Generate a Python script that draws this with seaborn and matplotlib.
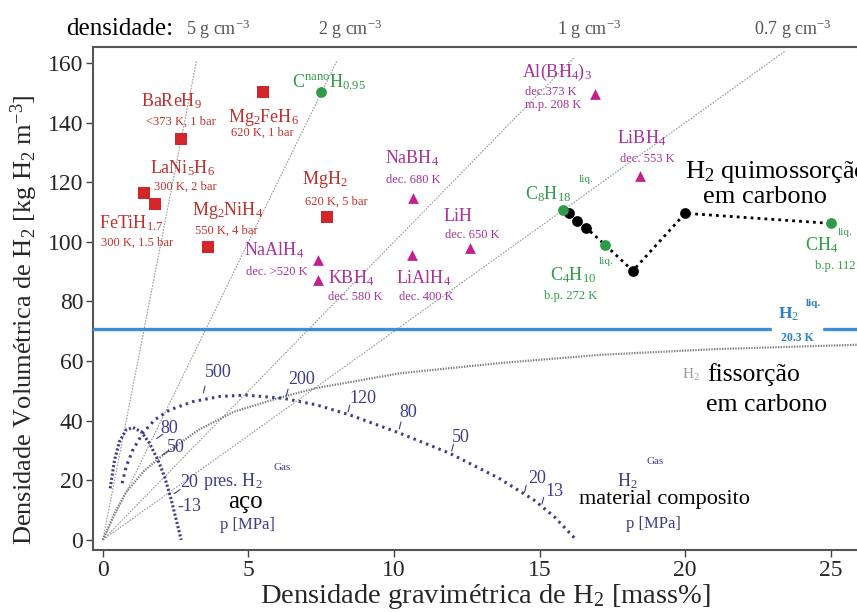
import matplotlib
matplotlib.use('Agg')
import matplotlib.pyplot as plt
import seaborn as sns
import pandas as pd

# ---------------- data ----------------
# metal hydrides (red squares)
hyd_names = ["BaReH9", "Mg2FeH6", "LaNi5H6", "FeTiH1.7", "Mg2NiH4", "MgH2"]
hyd_x = [2.7, 5.5, 1.4, 1.8, 3.6, 7.7]
hyd_y = [134.5, 150.4, 116.5, 112.6, 98.4, 108.5]

# complex hydrides (magenta triangles)
cplx_names = ["Al(BH4)3", "LiBH4", "NaBH4", "NaAlH4", "KBH4", "LiAlH4", "LiH"]
cplx_x = [16.9, 18.45, 10.65, 7.4, 7.4, 10.6, 12.6]
cplx_y = [149.5, 122.0, 114.8, 93.8, 87.2, 95.7, 97.8]

# hydrocarbons / carbon (green circles)
hc_names = ["CnanoH0.95", "C8H18", "C4H10", "CH4"]
hc_x = [7.48, 15.8, 17.25, 25.0]
hc_y = [150.4, 110.6, 99.0, 106.2]

# chemisorption on carbon (black dotted path)
chem_x = [15.8, 16.0, 16.3, 16.6, 17.25, 18.2, 20.0, 25.0]
chem_y = [110.6, 109.7, 107.0, 104.7, 99.0, 90.3, 109.6, 106.2]
chem_dot_x = [16.0, 16.3, 16.6, 18.2, 20.0]
chem_dot_y = [109.7, 107.0, 104.7, 90.3, 109.6]

# liquid hydrogen
h2_liq = 70.8

# density reference lines (g cm^-3) and their upper ends (kg m^-3)
densities = [5, 2, 1, 0.7]
density_labels = ["5 g cm$^{-3}$", "2 g cm$^{-3}$", "1 g cm$^{-3}$", "0.7 g cm$^{-3}$"]
density_top = [161, 161, 162, 164]

# pressurised H2 in steel tank
steel_x = [0.25, 0.40, 0.57, 0.80, 1.03, 1.32, 1.60, 1.89, 2.12, 2.35, 2.52, 2.69]
steel_y = [17.3, 26.8, 33.0, 36.9, 37.7, 36.3, 32.4, 26.8, 21.2, 13.4, 6.7, 0.0]

# pressurised H2 in composite tank
comp_x = [0.66, 0.80, 1.03, 1.37, 1.78, 2.29, 3.09, 4.0, 4.9, 6.2, 7.34, 8.49,
          10.2, 11.9, 13.6, 14.8, 15.5, 16.2]
comp_y = [19.0, 24.6, 30.2, 35.8, 40.3, 43.6, 46.4, 48.1, 48.6, 47.5, 45.3, 41.9,
          35.8, 29.1, 20.7, 13.4, 7.8, 0.6]

# physisorption on carbon
phys_x = [0.0, 0.4, 0.8, 1.4, 2.0, 3.3, 4.5, 6.0, 7.3, 10.2, 13.6, 17.1, 21.0, 26.0]
phys_y = [0.0, 9.0, 16.0, 23.0, 28.0, 37.0, 43.0, 47.5, 50.9, 55.9, 59.3, 62.1, 64.0, 65.5]

# pressure labels (MPa)
steel_p = ["80", "50", "20", "-13"]
comp_p = ["500", "200", "120", "80", "50", "20", "13"]

x_ticks = [0, 5, 10, 15, 20, 25]
y_ticks = [0, 20, 40, 60, 80, 100, 120, 140, 160]

# ---------------- style ----------------
sns.set_theme(style="white")
plt.rcParams['font.family'] = ['Liberation Serif', 'DejaVu Serif']
plt.rcParams['mathtext.fontset'] = 'custom'
plt.rcParams['mathtext.rm'] = 'Liberation Serif'
plt.rcParams['mathtext.it'] = 'Liberation Serif:italic'
plt.rcParams['mathtext.bf'] = 'Liberation Serif:bold'

RED = "#d2262b"
RED_T = "#c0302c"
MAG = "#c3208f"
MAG_T = "#a8329c"
GRN = "#2e9b48"
NAVY = "#3d3d88"
BLUE = "#3a8fd6"
BLUE_T = "#2a7fc0"
GREY = "#9a9a9a"

fig = plt.figure(figsize=(8.57, 6.12), dpi=100)
ax = fig.add_axes([0.1085, 0.1013, 0.8915, 0.8219])
XMIN, XMAX = -0.34, 25.9
ax.set_xlim(XMIN, XMAX)
ax.set_ylim(-3.4, 165.4)

# density lines
for d, top in zip(densities, density_top):
    sns.lineplot(x=[0, top / (10 * d)], y=[0, top], ax=ax, color=GREY, lw=0.8,
                 linestyle=(0, (1.5, 1.2)), sort=False, estimator=None)

# physisorption curve
sns.lineplot(x=phys_x, y=phys_y, ax=ax, color="#7a7a7a", lw=1.6,
             linestyle=(0, (0.6, 0.6)), sort=False, estimator=None)
# pressure curves
sns.lineplot(x=steel_x, y=steel_y, ax=ax, color=NAVY, lw=2.2,
             linestyle=(0, (0.7, 0.7)), sort=False, estimator=None)
sns.lineplot(x=comp_x, y=comp_y, ax=ax, color=NAVY, lw=2.2,
             linestyle=(0, (0.8, 1.4)), sort=False, estimator=None)

# liquid hydrogen line, with a gap for its label
gap_lo, gap_hi = 22.9, 24.75
ax.axhline(h2_liq, xmax=(gap_lo - XMIN) / (XMAX - XMIN), color=BLUE, lw=2.4, zorder=3)
ax.axhline(h2_liq, xmin=(gap_hi - XMIN) / (XMAX - XMIN), color=BLUE, lw=2.4, zorder=3)

# chemisorption path
sns.lineplot(x=chem_x, y=chem_y, ax=ax, color="black", lw=2.0,
             linestyle=(0, (1, 1.5)), sort=False, estimator=None)
sns.scatterplot(x=chem_dot_x, y=chem_dot_y, ax=ax, color="black", s=60,
                linewidth=0, zorder=5)

# markers
sns.scatterplot(x=hyd_x, y=hyd_y, ax=ax, marker="s", color=RED, s=70,
                linewidth=0, zorder=5)
sns.scatterplot(x=cplx_x, y=cplx_y, ax=ax, marker="^", color=MAG, s=60,
                linewidth=0, zorder=5)
sns.scatterplot(x=hc_x, y=hc_y, ax=ax, marker="o", color=GRN, s=60,
                linewidth=0, zorder=6)

# ---------------- texts ----------------
big, small = 13, 9
def t(x, y, s, c, fs, ha="center", **kw):
    ax.text(x, y, s, color=c, fontsize=fs, ha=ha, va="center", **kw)

# red
t(2.37, 147.3, "BaReH$_9$", RED_T, big)
t(2.68, 140.3, "<373 K, 1 bar", RED_T, small)
t(5.53, 141.6, "Mg$_2$FeH$_6$", RED_T, big)
t(5.46, 136.6, "620 K, 1 bar", RED_T, small)
t(2.75, 124.8, "LaNi$_5$H$_6$", RED_T, big)
t(2.82, 118.5, "300 K, 2 bar", RED_T, small)
t(0.96, 106.4, "FeTiH$_{1.7}$", RED_T, big)
t(1.17, 99.7, "300 K, 1.5 bar", RED_T, small)
t(4.30, 110.7, "Mg$_2$NiH$_4$", RED_T, big)
t(4.23, 103.7, "550 K, 4 bar", RED_T, small)
t(7.63, 120.8, "MgH$_2$", RED_T, big)
t(8.0, 113.4, "620 K, 5 bar", RED_T, small)

# magenta
t(10.62, 128.2, "NaBH$_4$", MAG_T, big)
t(10.65, 120.8, "dec. 680 K", MAG_T, small)
t(15.6, 156.7, "Al(BH$_4$)$_3$", MAG_T, big)
t(14.5, 150.3, "dec.373 K", MAG_T, small, ha="left")
t(14.5, 146.0, "m.p. 208 K", MAG_T, small, ha="left")
t(18.52, 134.9, "LiBH$_4$", MAG_T, big)
t(18.7, 127.9, "dec. 553 K", MAG_T, small)
t(5.88, 97.3, "NaAlH$_4$", MAG_T, big)
t(5.97, 89.9, "dec. >520 K", MAG_T, small)
t(8.52, 87.9, "KBH$_4$", MAG_T, big)
t(8.68, 81.5, "dec. 580 K", MAG_T, small)
t(11.03, 87.9, "LiAlH$_4$", MAG_T, big)
t(11.1, 81.5, "dec. 400 K", MAG_T, small)
t(12.2, 108.4, "LiH", MAG_T, big)
t(12.7, 102.3, "dec. 650 K", MAG_T, small)

# green
t(7.75, 153.5, r"C$^{\mathrm{nano}}$H$_{0.95}$", GRN, big)
t(15.3, 116.0, "C$_8$H$_{18}$", GRN, big)
t(16.6, 120.8, "liq.", GRN, 8)
t(16.15, 89.0, "C$_4$H$_{10}$", GRN, big)
t(17.3, 93.5, "liq.", GRN, 8)
t(16.05, 81.9, "b.p. 272 K", GRN, small)
t(24.7, 99.0, "CH$_4$", GRN, big)
t(25.5, 103.0, "liq.", GRN, 8)
t(25.35, 92.0, "b.p. 112 K", GRN, small)

# liquid H2 label
t(23.55, 75.8, "H$_2$", BLUE_T, 12.5, fontweight="bold")
t(24.4, 79.2, "liq.", BLUE_T, 8, fontweight="bold")
t(23.85, 67.8, "20.3 K", BLUE_T, 8.5, fontweight="bold")

# black descriptive texts
t(20.0, 123.5, "H$_2$ quimossorção", "black", 19, ha="left")
t(22.75, 115.1, "em carbono", "black", 19)
t(20.2, 55.4, "H$_2$", GREY, 11)
t(20.76, 55.4, "fissorção", "black", 18.5, ha="left")
t(22.8, 45.3, "em carbono", "black", 18.5)
t(4.88, 12.8, "aço", "black", 18)
t(4.47, 19.5, "pres. H$_2$", NAVY, 13)
t(6.15, 24.2, "Gas", NAVY, 8)
t(4.98, 5.0, "p [MPa]", NAVY, 12)
t(18.0, 19.8, "H$_2$", NAVY, 13)
t(18.97, 26.2, "Gas", NAVY, 8)
t(19.3, 13.4, "material composito", "black", 16)
t(18.9, 5.4, "p [MPa]", NAVY, 12)

# pressure labels with small ticks
steel_lab = [(2.29, 37.5), (2.5, 30.9), (2.98, 19.1), (2.98, 11.2)]
steel_tick = [(1.85, 34.0), (2.05, 28.5), (2.45, 15.5), (2.6, 9.0)]
for lab, (lx, ly), (tx, ty) in zip(steel_p, steel_lab, steel_tick):
    if not lab.startswith("-"):
        ax.annotate("", xy=(tx, ty), xytext=(tx + 0.2, ty + 1.4),
                    arrowprops=dict(arrowstyle="-", color=NAVY, lw=0.8,
                                    shrinkA=0, shrinkB=0))
    t(lx, ly, lab, NAVY, 13)

comp_lab = [(3.95, 56.0), (6.83, 53.7), (8.94, 47.5), (10.5, 42.6), (12.3, 34.5),
            (14.9, 20.7), (15.5, 16.2)]
comp_tick = [(3.45, 49.3), (6.3, 48.3), (8.42, 42.9), (10.18, 37.3), (11.98, 29.8),
             (14.48, 16.0), (15.08, 12.0)]
for lab, (lx, ly), (tx, ty) in zip(comp_p, comp_lab, comp_tick):
    ax.annotate("", xy=(tx, ty), xytext=(tx + 0.06, ty + 2.3),
                arrowprops=dict(arrowstyle="-", color=NAVY, lw=0.8,
                                shrinkA=0, shrinkB=0))
    t(lx, ly, lab, NAVY, 13)

# top density labels
ax.text(0.58, 171.5, "densidade:", color="black", fontsize=18, ha="center",
        va="center", clip_on=False)
for lab, xx in zip(density_labels, [3.95, 8.5, 16.7, 23.7]):
    ax.text(xx, 171.5, lab, color="#555555", fontsize=13, ha="center",
            va="center", clip_on=False)

# axes
ax.set_xticks(x_ticks)
ax.set_yticks(y_ticks)
ax.tick_params(axis="both", which="both", direction="out", length=5, width=1,
               labelsize=17, color="#444444", bottom=True, left=True, pad=2)
for side in ["left", "bottom", "top"]:
    ax.spines[side].set_color("#555555")
    ax.spines[side].set_linewidth(1.5)
ax.spines["right"].set_visible(False)
ax.set_xlabel("Densidade gravimétrica de H$_2$ [mass%]", fontsize=20.5)
ax.set_ylabel("Densidade Volumétrica de H$_2$ [kg H$_2$ m$^{-3}$]", fontsize=19)
ax.xaxis.set_label_coords(0.513, -0.064)
ax.yaxis.set_label_coords(-0.07, 0.457)
ax.grid(False)

fig.savefig("out.png", dpi=100)
